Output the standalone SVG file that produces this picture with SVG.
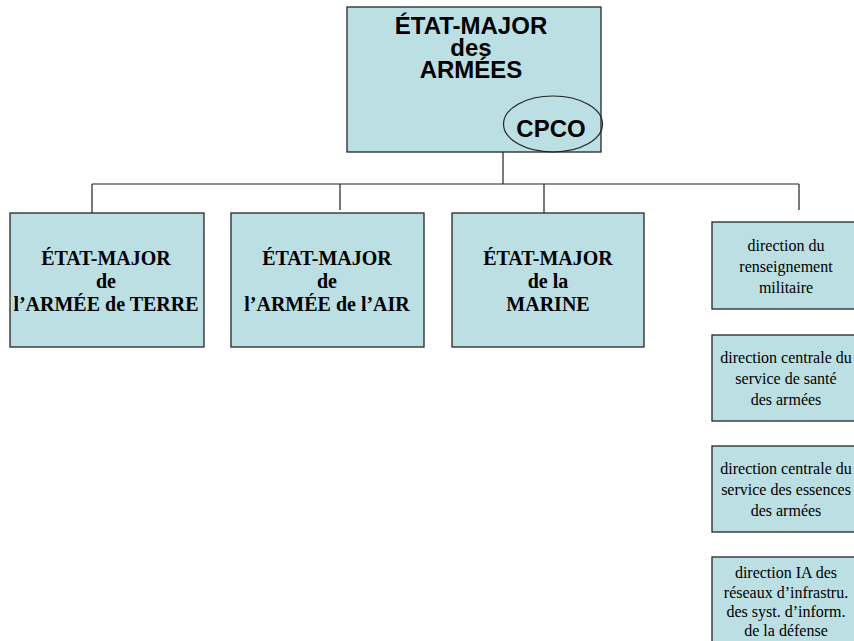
<svg xmlns="http://www.w3.org/2000/svg" width="854" height="641" viewBox="0 0 854 641">
<style>
.box{fill:#BBDFE3;stroke:#262626;stroke-width:1.3}
.ell{fill:none;stroke:#222;stroke-width:1.2}
.conn{stroke:#222;stroke-width:1.2;fill:none}
.ta{font-family:"Liberation Sans",Arial,sans-serif;font-weight:bold;font-size:24px;fill:#000;text-anchor:middle}
.tb{font-family:"Liberation Serif","Times New Roman",serif;font-weight:bold;font-size:20px;fill:#000;text-anchor:middle}
.ts{font-family:"Liberation Serif","Times New Roman",serif;font-size:16px;fill:#000;text-anchor:middle}
</style>
<rect width="854" height="641" fill="#fff"/>
<g id="connectors">
<path class="conn" d="M503 152V184M92 184H799M92 184V213M340 184V210M544 184V213M799 184V210"/>
</g>
<g id="ema">
<rect class="box" x="347" y="7" width="254" height="145"/>
<text class="ta" x="471" y="34">ÉTAT-MAJOR</text>
<text class="ta" x="471" y="56">des</text>
<text class="ta" x="471" y="78">ARMÉES</text>
<ellipse class="ell" cx="553" cy="124" rx="49.5" ry="28"/>
<text class="ta" x="551" y="137">CPCO</text>
</g>
<g id="emat">
<rect class="box" x="10" y="213" width="194" height="134"/>
<text class="tb" x="106" y="265">ÉTAT-MAJOR</text>
<text class="tb" x="106" y="288">de</text>
<text class="tb" x="106" y="311">l’ARMÉE de TERRE</text>
</g>
<g id="emaa">
<rect class="box" x="231" y="213" width="193" height="134"/>
<text class="tb" x="327" y="265">ÉTAT-MAJOR</text>
<text class="tb" x="327" y="288">de</text>
<text class="tb" x="327" y="311">l’ARMÉE de l’AIR</text>
</g>
<g id="emm">
<rect class="box" x="452" y="213" width="192" height="134"/>
<text class="tb" x="548" y="265">ÉTAT-MAJOR</text>
<text class="tb" x="548" y="288">de la</text>
<text class="tb" x="548" y="311">MARINE</text>
</g>
<g id="drm">
<rect class="box" x="712" y="222" width="150" height="87"/>
<text class="ts" x="786" y="251">direction du</text>
<text class="ts" x="786" y="272">renseignement</text>
<text class="ts" x="786" y="293">militaire</text>
</g>
<g id="dcssa">
<rect class="box" x="712" y="335" width="150" height="86"/>
<text class="ts" x="786" y="363">direction centrale du</text>
<text class="ts" x="786" y="384">service de santé</text>
<text class="ts" x="786" y="405">des armées</text>
</g>
<g id="dcsea">
<rect class="box" x="712" y="446" width="150" height="86"/>
<text class="ts" x="786" y="474">direction centrale du</text>
<text class="ts" x="786" y="495">service des essences</text>
<text class="ts" x="786" y="516">des armées</text>
</g>
<g id="dirisi">
<rect class="box" x="712" y="557" width="150" height="100"/>
<text class="ts" x="786" y="578">direction IA des</text>
<text class="ts" x="786" y="598">réseaux d’infrastru.</text>
<text class="ts" x="786" y="617">des syst. d’inform.</text>
<text class="ts" x="786" y="636">de la défense</text>
</g>
</svg>
